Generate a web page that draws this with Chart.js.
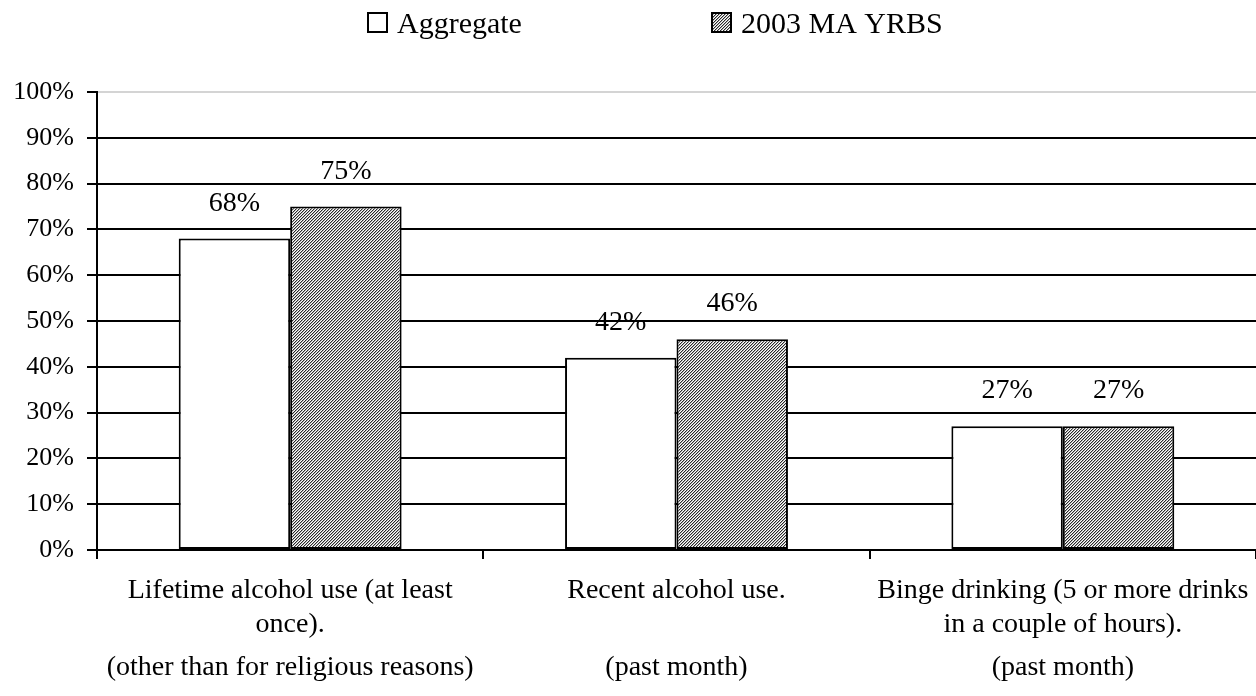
<!DOCTYPE html>
<html>
<head>
<meta charset="utf-8">
<script src="https://cdn.jsdelivr.net/npm/chart.js@4.4.0/dist/chart.umd.min.js"></script>
<style>
    html, body { margin: 0; padding: 0; background: #fff; }
    #wrap { width: 1256px; height: 696px; position: relative; }
</style>
</head>
<body>
<div id="wrap"><canvas id="grafica"></canvas></div>
<script>
// Datos del gráfico
const categorias = [
    ['Lifetime alcohol use (at least', 'once).', '(other than for religious reasons)'],
    ['Recent alcohol use.', '', '(past month)'],
    ['Binge drinking (5 or more drinks', 'in a couple of hours).', '(past month)']
];
const serieNombres = ['Aggregate', '2003 MA YRBS'];
const agregado = [68, 42, 27];
const maYrbs = [75, 46, 27];
const ticksY = [0, 10, 20, 30, 40, 50, 60, 70, 80, 90, 100];

const FUENTE = '"Liberation Serif", "Times New Roman", serif';

// Patrón rayado fino para la segunda serie
function crearRayado() {
    const c = document.createElement('canvas');
    c.width = 3;
    c.height = 3;
    const g = c.getContext('2d');
    for (let y = 0; y < 3; y++) {
        for (let x = 0; x < 3; x++) {
            const k = (x + y) % 3;
            g.fillStyle = k === 0 ? '#2a2a2a' : (k === 1 ? '#b0b0b0' : '#fff');
            g.fillRect(x, y, 1, 1);
        }
    }
    return g.createPattern(c, 'repeat');
}
const rayado = crearRayado();
const rellenos = ['#ffffff', rayado];

// Leyenda dibujada a mano (posiciones fijas como en el original)
const leyendaPlugin = {
    id: 'leyenda',
    afterDraw(chart) {
        const ctx = chart.ctx;
        const posX = [368, 712];
        ctx.save();
        ctx.font = '30px ' + FUENTE;
        ctx.textBaseline = 'alphabetic';
        serieNombres.forEach((nombre, i) => {
            const x = posX[i];
            ctx.fillStyle = rellenos[i];
            ctx.fillRect(x, 13, 19, 19);
            ctx.strokeStyle = '#000';
            ctx.lineWidth = 2;
            ctx.strokeRect(x, 13, 19, 19);
            ctx.fillStyle = '#000';
            ctx.fillText(nombre, x + 29, 33);
        });
        ctx.restore();
    }
};

// Etiquetas de valores y de categorías
const etiquetasPlugin = {
    id: 'etiquetas',
    afterDatasetsDraw(chart) {
        const ctx = chart.ctx;
        ctx.save();
        ctx.font = '28px ' + FUENTE;
        ctx.fillStyle = '#000';
        ctx.textAlign = 'center';
        ctx.textBaseline = 'alphabetic';
        chart.data.datasets.forEach((ds, i) => {
            chart.getDatasetMeta(i).data.forEach((bar, j) => {
                ctx.fillText(ds.data[j] + '%', bar.x, bar.y - 28);
            });
        });

        // Categorías del eje X
        const escalaX = chart.scales.x;
        const base = chart.chartArea.bottom;
        const filas = [48, 82, 125];
        categorias.forEach((lineas, i) => {
            const x = escalaX.getPixelForValue(i);
            lineas.forEach((txt, k) => {
                if (txt) ctx.fillText(txt, x, base + filas[k]);
            });
        });
        ctx.restore();
    }
};

const ctx = document.getElementById('grafica').getContext('2d');
new Chart(ctx, {
    type: 'bar',
    data: {
        labels: categorias.map(l => l.join(' ')),
        datasets: [{
            label: serieNombres[0],
            data: agregado,
            backgroundColor: rellenos[0],
            borderColor: '#000',
            borderWidth: 2,
            borderSkipped: false
        }, {
            label: serieNombres[1],
            data: maYrbs,
            backgroundColor: rellenos[1],
            borderColor: '#000',
            borderWidth: 2,
            borderSkipped: false
        }]
    },
    options: {
        responsive: true,
        maintainAspectRatio: false,
        animation: false,
        categoryPercentage: 0.577,
        barPercentage: 1,
        layout: { padding: { top: 92, right: 0, bottom: 137, left: 0 } },
        plugins: {
            legend: { display: false },
            tooltip: { enabled: false }
        },
        scales: {
            x: {
                offset: true,
                grid: {
                    offset: true,
                    drawOnChartArea: false,
                    drawTicks: true,
                    tickLength: 9,
                    color: '#000',
                    lineWidth: 2
                },
                border: { display: true, color: '#000', width: 2 },
                ticks: { display: false }
            },
            y: {
                min: 0,
                max: 100,
                afterFit: (s) => { s.width = 97; },
                afterBuildTicks: (s) => { s.ticks = ticksY.map(v => ({ value: v })); },
                grid: {
                    color: (c) => c.tick && c.tick.value === 100 ? '#d4d4d4' : '#000',
                    tickColor: '#000',
                    lineWidth: 2,
                    tickLength: 10
                },
                border: { display: true, color: '#000', width: 2 },
                ticks: {
                    padding: 13,
                    color: '#000',
                    font: { family: FUENTE, size: 26 },
                    callback: (v) => v + '%'
                }
            }
        }
    },
    plugins: [leyendaPlugin, etiquetasPlugin]
});
</script>
</body>
</html>
